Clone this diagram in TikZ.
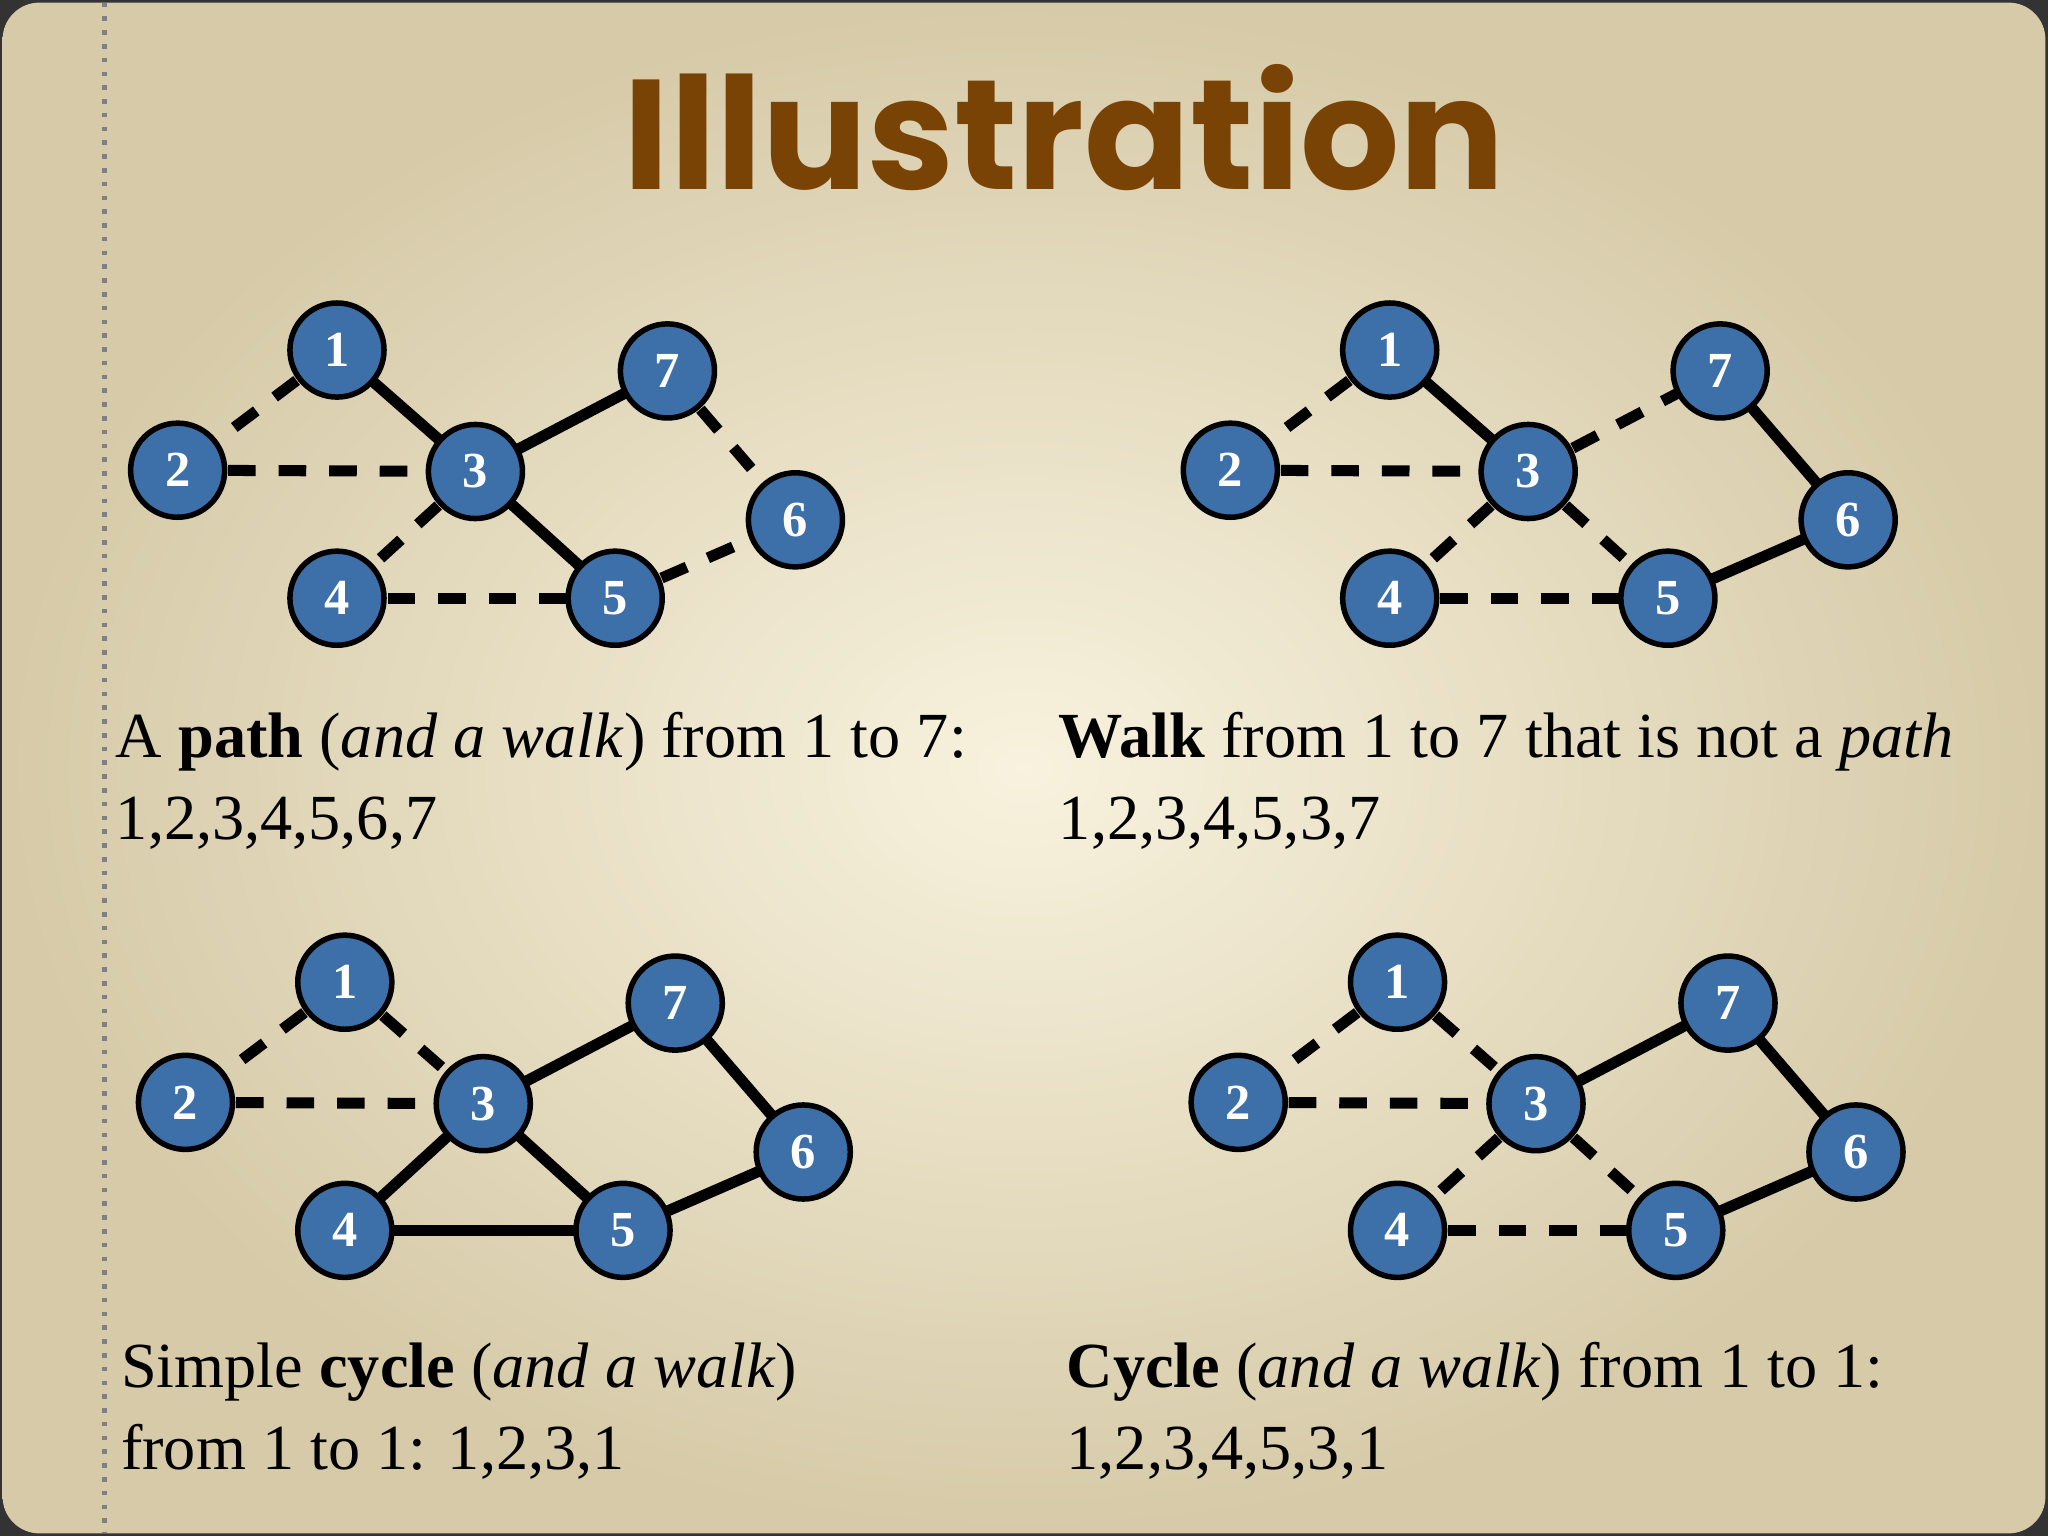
\documentclass[tikz,border=0pt]{standalone}
\usepackage{fontspec}
\setmainfont{Liberation Serif}
\newfontfamily\titlefont{Poppins}
\usetikzlibrary{shadings}
\definecolor{nodeblue}{HTML}{3D6FA8}
\definecolor{titlebrown}{HTML}{7A4306}
\begin{document}
\begin{tikzpicture}[x=0.01cm,y=-0.01cm,
  vtx/.style={circle,fill=nodeblue,draw=black,line width=1.2pt,minimum size=0.72cm,inner sep=0pt,text=white,font=\bfseries\fontsize{11pt}{11pt}\selectfont},
  sol/.style={line width=2.4pt},
  dsh/.style={line width=2.4pt,dash pattern=on 6pt off 5pt},
  captxt/.style={anchor=base west,font=\fontsize{14pt}{14pt}\selectfont,inner sep=0pt}]
\useasboundingbox (0,0) rectangle (1568,1176);
\fill[black!80] (0,0) rectangle (1568,1176);
\shade[inner color={rgb,255:red,248;green,242;blue,222}, outer color={rgb,255:red,214;green,202;blue,168},rounded corners=8pt] (2,2) rectangle (1566,1174);
\draw[black!50,line width=1pt,dotted] (80,2) -- (80,1174);
\node[font=\titlefont\bfseries\fontsize{34pt}{34pt}\selectfont,text=titlebrown] (title) at (815,98) {Illustration};
\foreach \gx/\gy/\ea/\eb/\ec/\ed/\ee/\ef/\eg/\eh/\gi in {
 0/0/dsh/sol/sol/dsh/dsh/sol/dsh/dsh/a,
 806/0/dsh/sol/dsh/sol/dsh/dsh/dsh/sol/b,
 6/484/dsh/dsh/sol/sol/sol/sol/sol/sol/c,
 812/484/dsh/dsh/sol/sol/dsh/dsh/dsh/sol/d}{
\begin{scope}[shift={(\gx,\gy)}]
\coordinate (\gi1) at (258,268);
\coordinate (\gi2) at (136,360);
\coordinate (\gi3) at (364,361);
\coordinate (\gi7) at (511,284);
\coordinate (\gi6) at (609,398);
\coordinate (\gi4) at (258,458);
\coordinate (\gi5) at (471,458);
\draw[\ea] (\gi1) -- (\gi2);
\draw[\eb] (\gi1) -- (\gi3);
\draw[dsh] (\gi2) -- (\gi3);
\draw[\ec] (\gi3) -- (\gi7);
\draw[\ed] (\gi7) -- (\gi6);
\draw[\ee] (\gi3) -- (\gi4);
\draw[\ef] (\gi3) -- (\gi5);
\draw[\eg] (\gi4) -- (\gi5);
\draw[\eh] (\gi5) -- (\gi6);
\foreach \k in {1,2,3,4,5,6,7}{\node[vtx] (\gi\k v) at (\gi\k) {\k};}
\end{scope}}
\node[captxt] (c1) at (88,580) {A \textbf{path} (\textit{and a walk}) from 1 to 7:};
\node[captxt] (c2) at (88,643) {1,2,3,4,5,6,7};
\node[captxt] (c3) at (810,580) {\textbf{Walk} from 1 to 7 that is not a \textit{path}};
\node[captxt] (c4) at (810,643) {1,2,3,4,5,3,7};
\node[captxt] (c5) at (92,1062) {Simple \textbf{cycle} (\textit{and a walk})};
\node[captxt] (c6) at (92,1125) {from 1 to 1: 1,2,3,1};
\node[captxt] (c7) at (816,1062) {\textbf{Cycle} (\textit{and a walk}) from 1 to 1:};
\node[captxt] (c8) at (816,1125) {1,2,3,4,5,3,1};
\end{tikzpicture}
\end{document}
